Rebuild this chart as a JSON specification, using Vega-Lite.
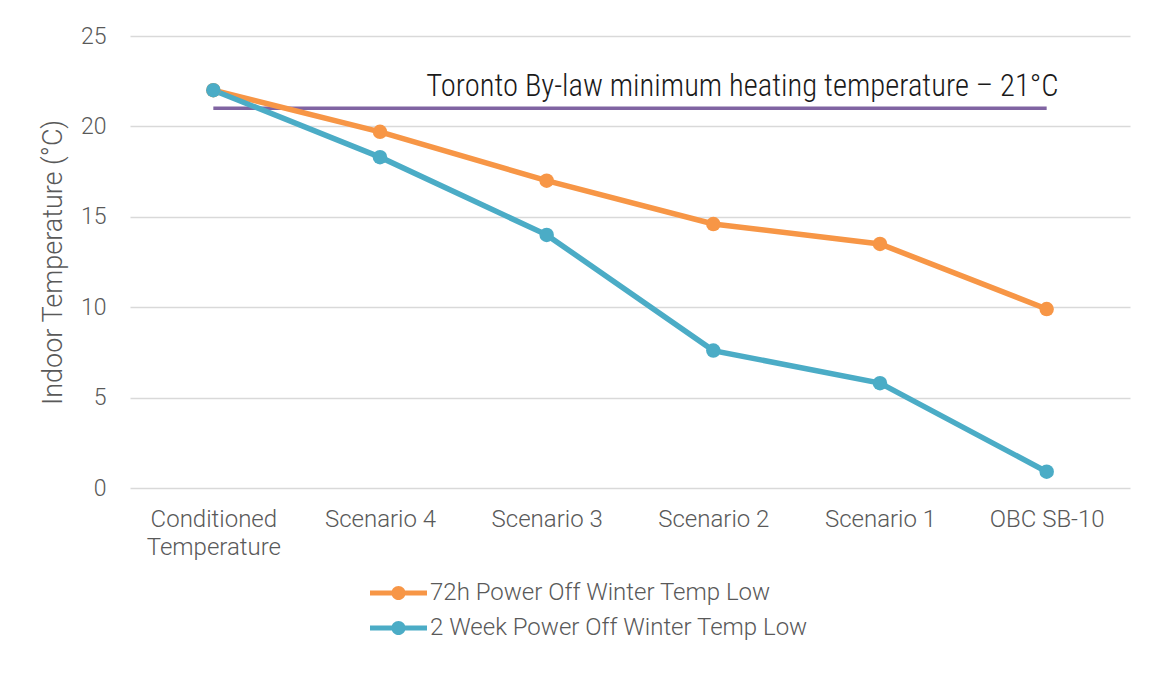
{
  "$schema": "https://vega.github.io/schema/vega-lite/v6.json",
  "autosize": {"type": "none"},
  "width": 1000,
  "height": 452,
  "padding": {"left": 130, "top": 36, "right": 22, "bottom": 187},
  "background": "white",
  "config": {
    "font": "Roboto",
    "view": {"stroke": null},
    "axis": {"labelFont": "Roboto", "labelFontWeight": 300, "labelColor": "#595959", "titleFont": "Roboto", "titleFontWeight": 300, "titleColor": "#595959", "gridColor": "#d9d9d9", "gridWidth": 1.5, "ticks": false, "domain": false}
  },
  "datasets": {
    "series": [
      {"category": "Conditioned Temperature", "series": "72h Power Off Winter Temp Low", "temp": 22},
      {"category": "Scenario 4", "series": "72h Power Off Winter Temp Low", "temp": 19.7},
      {"category": "Scenario 3", "series": "72h Power Off Winter Temp Low", "temp": 17},
      {"category": "Scenario 2", "series": "72h Power Off Winter Temp Low", "temp": 14.6},
      {"category": "Scenario 1", "series": "72h Power Off Winter Temp Low", "temp": 13.5},
      {"category": "OBC SB-10", "series": "72h Power Off Winter Temp Low", "temp": 9.9},
      {"category": "Conditioned Temperature", "series": "2 Week Power Off Winter Temp Low", "temp": 22},
      {"category": "Scenario 4", "series": "2 Week Power Off Winter Temp Low", "temp": 18.3},
      {"category": "Scenario 3", "series": "2 Week Power Off Winter Temp Low", "temp": 14},
      {"category": "Scenario 2", "series": "2 Week Power Off Winter Temp Low", "temp": 7.6},
      {"category": "Scenario 1", "series": "2 Week Power Off Winter Temp Low", "temp": 5.8},
      {"category": "OBC SB-10", "series": "2 Week Power Off Winter Temp Low", "temp": 0.9}
    ],
    "threshold": [
      {"category": "Conditioned Temperature", "temp": 21},
      {"category": "OBC SB-10", "temp": 21}
    ],
    "note": [
      {"category": "OBC SB-10", "temp": 21, "label": "Toronto By-law minimum heating temperature – 21°C"}
    ]
  },
  "encoding": {
    "x": {
      "field": "category", "type": "nominal", "title": null,
      "scale": {"domain": ["Conditioned Temperature", "Scenario 4", "Scenario 3", "Scenario 2", "Scenario 1", "OBC SB-10"]},
      "axis": {"labelAngle": 0, "labelFontSize": 24, "labelPadding": 19, "labelLineHeight": 28, "grid": false,
               "labelExpr": "datum.label == 'Conditioned Temperature' ? ['Conditioned', 'Temperature'] : datum.label"}
    },
    "y": {
      "field": "temp", "type": "quantitative", "title": "Indoor Temperature (°C)",
      "scale": {"domain": [0, 25], "nice": false},
      "axis": {"values": [0, 5, 10, 15, 20, 25], "labelFontSize": 23, "labelPadding": 24, "titleFontSize": 27, "titlePadding": 13}
    }
  },
  "layer": [
    {
      "data": {"name": "threshold"},
      "mark": {"type": "line", "color": "#8064a2", "strokeWidth": 3.5}
    },
    {
      "data": {"name": "note"},
      "mark": {"type": "text", "align": "right", "baseline": "middle", "dx": 12, "dy": -21, "fontSize": 30.6, "font": "Roboto Condensed, Liberation Sans Narrow, DejaVu Sans Condensed, Roboto", "fontWeight": 300, "color": "#1a1a1a"},
      "encoding": {
        "text": {"field": "label"}
      }
    },
    {
      "data": {"name": "series"},
      "mark": {"type": "line", "strokeWidth": 5.5, "point": {"filled": true, "size": 210, "opacity": 1}},
      "encoding": {
        "color": {
          "field": "series", "type": "nominal",
          "scale": {"domain": ["72h Power Off Winter Temp Low", "2 Week Power Off Winter Temp Low"], "range": ["#f79646", "#4bacc6"]},
          "legend": {
            "title": null, "orient": "none", "legendX": 253.5, "legendY": 542, "direction": "vertical",
            "padding": 0, "rowPadding": 8,
            "symbolType": "M-1.9,-0.17H1.9V0.17H-1.9Z M-0.47,0A0.47,0.47 0 1,1 0.47,0A0.47,0.47 0 1,1 -0.47,0Z",
            "symbolSize": 900, "symbolStrokeWidth": 0,
            "labelFont": "Roboto", "labelFontWeight": 300, "labelFontSize": 24, "labelColor": "#595959", "labelOffset": 16.5, "labelLimit": 600,
            "encode": {"symbols": {"update": {"fill": {"scale": "color", "field": "value"}, "strokeWidth": {"value": 0}, "opacity": {"value": 1}}}}
          }
        }
      }
    }
  ]
}
